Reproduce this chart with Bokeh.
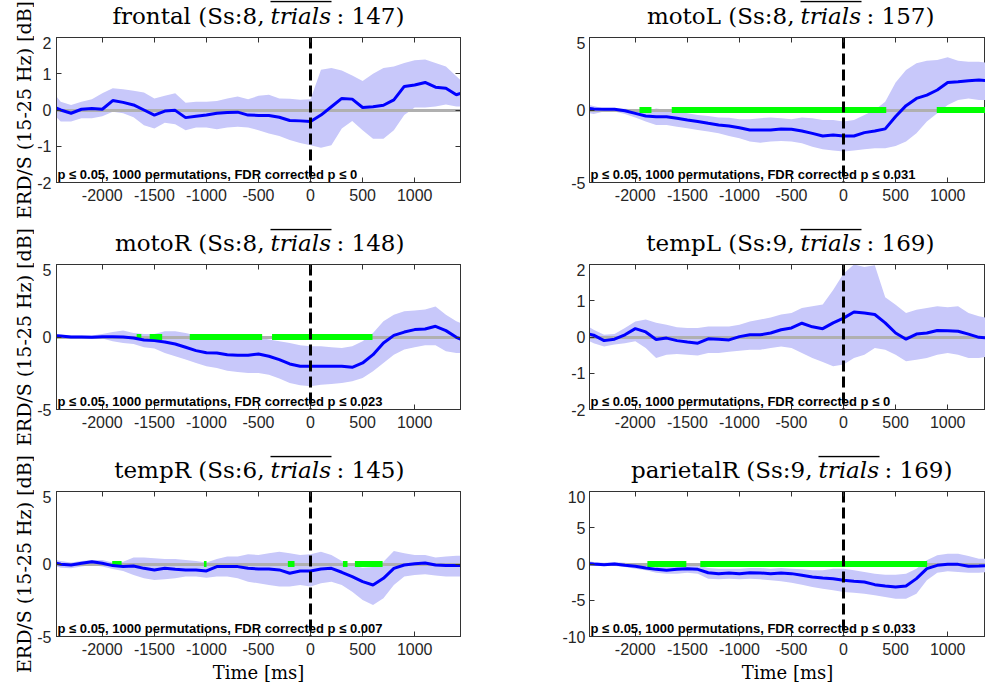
import math
from bokeh.plotting import figure
from bokeh.models import Range1d, FixedTicker, LinearAxis, Label, CustomJSTickFormatter
from bokeh.layouts import column, row
from bokeh.embed import file_html
from bokeh.resources import INLINE

# ---------------- data ----------------
time_ms = [-2440, -2400, -2300, -2200, -2100, -2000, -1900, -1800, -1700, -1600,
           -1500, -1400, -1300, -1200, -1100, -1000, -900, -800, -700, -600,
           -500, -400, -300, -200, -100, 0, 100, 200, 300, 400,
           500, 600, 700, 800, 900, 1000, 1100, 1200, 1300, 1400, 1440]

panel_names = ["frontal", "motoL", "motoR", "tempL", "tempR", "parietalR"]
panel_ss = [8, 8, 8, 9, 6, 9]
panel_trials = [147, 157, 148, 169, 145, 169]
panel_fdr = ["0", "0.031", "0.023", "0", "0.007", "0.033"]
panel_ylim = [(-2, 2), (-5, 5), (-5, 5), (-2, 2), (-5, 5), (-10, 10)]
panel_yticks = [[-2, -1, 0, 1, 2], [-5, 0, 5], [-5, 0, 5], [-2, -1, 0, 1, 2], [-5, 0, 5], [-10, -5, 0, 5, 10]]
panel_ytick_labels = [["-2", "-1", "0", "1", "2"], ["-5", "0", "5"], ["-5", "0", "5"],
                      ["-2", "-1", "0", "1", "2"], ["-5", "0", "5"], ["-10", "-5", "0", "5", "10"]]
x_ticks = [-2000, -1500, -1000, -500, 0, 500, 1000]
x_tick_labels = ["-2000", "-1500", "-1000", "-500", "0", "500", "1000"]
y_label_text = "ERD/S (15-25 Hz) [dB]"
x_label_text = "Time [ms]"

frontal_mean = [0.05, 0.0, -0.09, 0.02, 0.04, 0.02, 0.26, 0.21, 0.14, 0.0,
                -0.14, -0.03, -0.01, -0.21, -0.17, -0.14, -0.09, -0.07, -0.06, -0.14,
                -0.15, -0.15, -0.2, -0.29, -0.3, -0.32, -0.14, 0.09, 0.32, 0.3,
                0.07, 0.09, 0.13, 0.28, 0.65, 0.69, 0.76, 0.63, 0.6, 0.42, 0.46]
frontal_upper = [0.37, 0.23, 0.14, 0.23, 0.3, 0.46, 0.6, 0.57, 0.53, 0.48,
                 0.32, 0.39, 0.46, 0.2, 0.23, 0.23, 0.25, 0.32, 0.37, 0.3,
                 0.39, 0.42, 0.32, 0.31, 0.28, 0.3, 1.11, 1.16, 1.09, 0.95,
                 0.8, 1.0, 1.16, 1.2, 1.3, 1.37, 1.39, 1.3, 1.2, 0.93, 0.83]
frontal_lower = [-0.2, -0.32, -0.32, -0.23, -0.23, -0.17, -0.05, -0.09, -0.2, -0.42,
                 -0.51, -0.35, -0.39, -0.56, -0.48, -0.48, -0.53, -0.48, -0.46, -0.48,
                 -0.56, -0.65, -0.72, -0.83, -0.91, -0.97, -1.04, -0.97, -0.51, -0.3,
                 -0.56, -0.79, -0.79, -0.56, -0.14, 0.07, 0.07, 0.1, 0.15, 0.1, 0.1]

motoL_mean = [0.11, 0.07, 0.05, 0.05, -0.05, -0.23, -0.41, -0.46, -0.46, -0.57,
              -0.69, -0.8, -0.92, -1.03, -1.1, -1.22, -1.38, -1.38, -1.38, -1.31,
              -1.33, -1.45, -1.61, -1.79, -1.72, -1.79, -1.79, -1.56, -1.45, -1.3,
              -0.45, 0.3, 0.8, 1.03, 1.38, 1.89, 1.95, 2.02, 2.07, 2.0, 2.0]
motoL_upper = [0.34, 0.28, 0.11, 0.11, 0.09, 0.05, -0.07, 0.1, 0.0, -0.11,
               -0.23, -0.34, -0.41, -0.51, -0.53, -0.64, -0.64, -0.57, -0.51, -0.57,
               -0.64, -0.51, -0.57, -0.69, -0.69, -0.8, -0.69, -0.34, 0.0, 0.57,
               1.9, 2.76, 3.22, 3.4, 3.45, 3.63, 3.4, 3.33, 3.33, 3.25, 3.25]
motoL_lower = [-0.23, -0.28, -0.11, -0.11, -0.28, -0.51, -0.8, -1.03, -1.03, -1.15,
               -1.26, -1.38, -1.49, -1.61, -1.79, -1.95, -2.18, -2.25, -2.18, -2.14,
               -2.18, -2.3, -2.53, -2.71, -2.8, -2.87, -2.8, -2.71, -2.64, -2.64,
               -2.48, -2.18, -1.61, -0.8, -0.23, 0.34, 0.69, 0.8, 0.69, 0.69, 0.69]

motoR_mean = [0.09, 0.07, 0.0, 0.0, -0.02, 0.02, 0.02, 0.0, -0.07, -0.21,
              -0.25, -0.34, -0.48, -0.71, -0.94, -1.08, -1.1, -1.22, -1.26, -1.26,
              -1.17, -1.33, -1.56, -1.86, -2.02, -2.02, -2.02, -2.02, -2.02, -2.09,
              -1.79, -1.22, -0.41, 0.11, 0.34, 0.51, 0.55, 0.74, 0.44, -0.02, -0.14]
motoR_upper = [0.21, 0.16, 0.11, 0.11, 0.11, 0.21, 0.34, 0.44, 0.28, 0.21,
               0.21, 0.39, 0.39, 0.28, 0.11, -0.02, -0.02, -0.07, -0.11, -0.07,
               -0.02, -0.18, -0.3, -0.41, -0.57, -0.64, -0.64, -0.71, -0.76, -0.64,
               -0.3, 0.28, 1.08, 1.54, 1.77, 1.82, 1.89, 2.11, 1.54, 1.08, 0.97]
motoR_lower = [-0.02, -0.07, -0.07, -0.11, -0.11, -0.11, -0.3, -0.41, -0.48, -0.71,
               -0.8, -1.1, -1.33, -1.56, -1.79, -2.02, -2.14, -2.32, -2.41, -2.48,
               -2.48, -2.6, -2.87, -3.17, -3.33, -3.4, -3.29, -3.24, -3.17, -3.06,
               -2.83, -2.37, -1.79, -1.22, -0.87, -0.71, -0.57, -0.57, -0.99, -1.1, -1.1]

tempL_mean = [0.08, 0.05, -0.1, -0.06, 0.06, 0.23, 0.14, -0.07, -0.03, -0.1,
              -0.14, -0.17, -0.05, -0.06, -0.08, 0.01, 0.06, 0.06, 0.11, 0.2,
              0.25, 0.38, 0.28, 0.23, 0.39, 0.52, 0.69, 0.66, 0.62, 0.39,
              0.11, -0.06, 0.08, 0.11, 0.18, 0.17, 0.16, 0.08, -0.01, -0.03, -0.03]
tempL_upper = [0.27, 0.2, 0.06, 0.08, 0.25, 0.43, 0.48, 0.39, 0.34, 0.27,
               0.25, 0.25, 0.29, 0.29, 0.29, 0.34, 0.43, 0.48, 0.54, 0.62,
               0.66, 0.8, 0.85, 0.9, 1.3, 1.75, 2.0, 1.93, 1.98, 1.1,
               0.89, 0.66, 0.75, 0.8, 0.85, 0.82, 0.85, 0.66, 0.57, 0.52, 0.52]
tempL_lower = [-0.12, -0.17, -0.26, -0.21, -0.17, -0.12, -0.3, -0.58, -0.49, -0.47,
               -0.49, -0.51, -0.44, -0.44, -0.41, -0.38, -0.35, -0.35, -0.3, -0.26,
               -0.3, -0.44, -0.58, -0.69, -0.81, -0.76, -0.58, -0.49, -0.3, -0.35,
               -0.49, -0.67, -0.63, -0.58, -0.49, -0.44, -0.49, -0.58, -0.58, -0.53, -0.53]

tempR_mean = [0.05, -0.02, -0.07, 0.05, 0.16, 0.05, -0.11, -0.18, -0.14, -0.3,
              -0.41, -0.3, -0.37, -0.41, -0.41, -0.48, -0.18, -0.18, -0.18, -0.3,
              -0.34, -0.34, -0.41, -0.64, -0.48, -0.48, -0.34, -0.3, -0.57, -0.87,
              -1.22, -1.45, -0.99, -0.3, -0.07, 0.02, 0.07, -0.07, -0.11, -0.11, -0.11]
tempR_upper = [0.28, 0.21, 0.11, 0.21, 0.28, 0.28, 0.1, 0.15, 0.44, 0.44,
               0.39, 0.34, 0.34, 0.28, 0.21, 0.1, 0.34, 0.51, 0.51, 0.67,
               0.62, 0.74, 0.85, 0.74, 0.62, 0.67, 0.85, 0.62, 0.21, -0.1,
               -0.25, -0.2, 0.15, 0.9, 0.74, 0.62, 0.62, 0.44, 0.51, 0.57, 0.57]
tempR_lower = [-0.18, -0.25, -0.3, -0.18, -0.07, -0.18, -0.34, -0.48, -0.76, -0.99,
               -1.1, -1.06, -0.99, -0.87, -0.87, -0.94, -0.87, -0.87, -0.99, -1.22,
               -1.33, -1.45, -1.56, -1.56, -1.45, -1.56, -1.33, -1.22, -1.45, -1.91,
               -2.48, -2.83, -2.37, -1.45, -0.87, -0.76, -0.71, -0.8, -0.87, -0.87, -0.87]

parietalR_mean = [0.05, 0.0, -0.09, 0.0, -0.18, -0.32, -0.55, -0.74, -0.87, -0.74,
                  -0.64, -0.74, -1.2, -1.33, -1.24, -1.33, -1.2, -1.24, -1.33, -1.24,
                  -1.33, -1.56, -1.79, -1.93, -2.02, -2.25, -2.39, -2.48, -2.85, -3.03,
                  -3.17, -3.03, -2.02, -0.64, -0.18, -0.05, -0.05, -0.32, -0.28, -0.2, -0.2]
parietalR_upper = [0.37, 0.28, 0.18, 0.28, 0.18, 0.05, -0.09, -0.18, -0.28, -0.18,
                   -0.09, -0.18, -0.55, -0.64, -0.64, -0.64, -0.55, -0.55, -0.64, -0.55,
                   -0.64, -0.74, -0.87, -0.87, -0.64, -0.64, -0.87, -1.1, -1.33, -1.47,
                   -1.47, -1.33, -0.64, 0.51, 1.2, 1.43, 1.43, 1.1, 0.74, 0.74, 0.74]
parietalR_lower = [-0.18, -0.18, -0.28, -0.28, -0.41, -0.64, -0.87, -1.2, -1.33, -1.33,
                   -1.2, -1.33, -2.02, -2.11, -2.02, -2.11, -2.02, -2.11, -2.25, -2.39,
                   -2.57, -2.85, -3.17, -3.4, -3.63, -3.86, -3.95, -4.09, -4.32, -4.55,
                   -4.78, -4.78, -4.09, -2.25, -1.2, -1.01, -1.1, -1.2, -1.2, -1.1, -1.1]

# significant intervals (ms), drawn as green bars on the zero line
frontal_sig = []
motoL_sig = [(-1960, -1845), (-1650, 410), (895, 1440)]
motoR_sig = [(-1670, -1625), (-1545, -1425), (-1160, -465), (-370, 595)]
tempL_sig = []
tempR_sig = [(-1905, -1815), (-1024, -999), (-218, -154), (311, 355), (426, 692)]
parietalR_sig = [(-1884, -1510), (-1376, 803)]

panel_mean = [frontal_mean, motoL_mean, motoR_mean, tempL_mean, tempR_mean, parietalR_mean]
panel_upper = [frontal_upper, motoL_upper, motoR_upper, tempL_upper, tempR_upper, parietalR_upper]
panel_lower = [frontal_lower, motoL_lower, motoR_lower, tempL_lower, tempR_lower, parietalR_lower]
panel_sig = [frontal_sig, motoL_sig, motoR_sig, tempL_sig, tempR_sig, parietalR_sig]

# ---------------- layout / style ----------------
X_START, X_END = -2440, 1440
FRAME_W_FULL = 404
MS_PER_PX = (X_END - X_START) / FRAME_W_FULL
FRAME_H = 145
STRIP_W = 34                      # left strip holding the y-axis labels
COLS = [dict(left=56 - STRIP_W, right=30, fw=404), dict(left=99, right=0, fw=396)]
ROWS = [dict(top=37, bottom=46), dict(top=36, bottom=46), dict(top=36, bottom=49)]
TOTAL_H = sum(r["top"] + FRAME_H + r["bottom"] for r in ROWS)
TITLE_SPLIT_PX = [214, 211, 214, 211, 214, 229]   # start of "trials" from frame left
TRIALS_W_PX = 61
GAP_PX = 6
SERIF = "DejaVu Serif"
SANS = "Liberation Sans"
AX_COLOR = "#333333"
TXT_COLOR = "#262626"


def style_axis(ax):
    ax.axis_line_color = AX_COLOR
    ax.major_tick_line_color = AX_COLOR
    ax.major_tick_in = 5
    ax.major_tick_out = 0
    ax.minor_tick_line_color = None
    ax.major_label_text_font = SANS
    ax.major_label_text_font_size = "16px"
    ax.major_label_text_color = TXT_COLOR


def blank_axis(ticks):
    ax = LinearAxis(ticker=FixedTicker(ticks=ticks),
                    formatter=CustomJSTickFormatter(code="return ''"))
    style_axis(ax)
    ax.major_label_text_font_size = "0px"
    ax.major_label_standoff = 0
    return ax


def make_title(i):
    r, c = divmod(i, 2)
    cl, rw = COLS[c], ROWS[r]
    h = rw["top"] - 1
    x_end = X_START + cl["fw"] * MS_PER_PX
    t = figure(width=cl["left"] + cl["fw"] + cl["right"], height=h,
               frame_width=cl["fw"], frame_height=h,
               min_border_left=cl["left"], min_border_right=cl["right"],
               min_border_top=0, min_border_bottom=0,
               x_range=Range1d(X_START, x_end), y_range=Range1d(0, h),
               x_axis_type=None, y_axis_type=None,
               output_backend="svg", toolbar_location=None)
    t.outline_line_color = None
    t.background_fill_color = "white"
    t.border_fill_color = "white"
    split = X_START + TITLE_SPLIT_PX[i] * MS_PER_PX
    ty = 21
    common = dict(y=ty, text_font=SERIF, text_font_size="23px", text_baseline="middle",
                  text_color="black")
    t.add_layout(Label(x=split - GAP_PX * MS_PER_PX, text=f"{panel_names[i]} (Ss:{panel_ss[i]},",
                       text_align="right", **common))
    t.add_layout(Label(x=split, text="trials", text_font_style="italic", text_align="left", **common))
    t.add_layout(Label(x=split + (TRIALS_W_PX + GAP_PX - 1) * MS_PER_PX, text=f": {panel_trials[i]})",
                       text_align="left", **common))
    oy = h - 1
    t.segment(x0=[split], y0=[oy], x1=[split + TRIALS_W_PX * MS_PER_PX], y1=[oy],
              line_color="black", line_width=1.5)
    return t


def make_panel(i):
    r, c = divmod(i, 2)
    cl, rw = COLS[c], ROWS[r]
    x_end = X_START + cl["fw"] * MS_PER_PX
    y0, y1 = panel_ylim[i]
    dy = (y1 - y0) / FRAME_H
    p = figure(width=cl["left"] + cl["fw"] + cl["right"],
               height=1 + FRAME_H + rw["bottom"],
               frame_width=cl["fw"], frame_height=FRAME_H,
               min_border_left=cl["left"], min_border_right=cl["right"],
               min_border_top=1, min_border_bottom=rw["bottom"],
               x_range=Range1d(X_START, x_end), y_range=Range1d(y0, y1),
               output_backend="svg", toolbar_location=None)
    p.xgrid.visible = False
    p.ygrid.visible = False
    p.outline_line_color = AX_COLOR
    p.background_fill_color = "white"
    p.border_fill_color = "white"

    p.xaxis.ticker = FixedTicker(ticks=x_ticks)
    p.xaxis.major_label_overrides = dict(zip(x_ticks, x_tick_labels))
    p.yaxis.ticker = FixedTicker(ticks=panel_yticks[i])
    p.yaxis.major_label_overrides = dict(zip(panel_yticks[i], panel_ytick_labels[i]))
    style_axis(p.xaxis[0])
    style_axis(p.yaxis[0])
    p.xaxis.major_label_standoff = 6
    p.yaxis.major_label_standoff = 5 if c == 0 else 4

    if r == 2:
        p.xaxis.axis_label = x_label_text
        p.xaxis.axis_label_text_font = SERIF
        p.xaxis.axis_label_text_font_size = "18px"
        p.xaxis.axis_label_text_font_style = "normal"
        p.xaxis.axis_label_text_color = "black"
        p.xaxis.axis_label_standoff = 4

    p.add_layout(blank_axis(x_ticks), "above")
    if c == 0:
        p.add_layout(blank_axis(panel_yticks[i]), "right")

    # band, zero line, significance bars, mean, onset marker
    p.varea(x=time_ms, y1=panel_lower[i], y2=panel_upper[i], fill_color="#c8c8fa")
    p.hspan(y=[0], line_color="#b0b0b0", line_width=3)
    sig = panel_sig[i]
    if sig:
        p.segment(x0=[s[0] for s in sig], y0=[0] * len(sig), x1=[s[1] for s in sig], y1=[0] * len(sig),
                  line_color="#00ff00", line_width=6, line_cap="butt")
    p.line(time_ms, panel_mean[i], line_color="#0000ff", line_width=3)
    p.vspan(x=[0], line_color="black", line_width=3, line_dash="11 5")

    p.add_layout(Label(x=X_START + 1 * MS_PER_PX, y=y0 + 0.5 * dy,
                       text="p \u2264 0.05, 1000 permutations, FDR corrected p \u2264 " + panel_fdr[i],
                       text_font=SANS, text_font_style="bold", text_font_size="13px",
                       text_color="black", text_baseline="bottom", text_align="left"))
    return p


def make_ylabel_strip():
    s = figure(width=STRIP_W, height=TOTAL_H, frame_width=STRIP_W, frame_height=TOTAL_H,
               min_border_left=0, min_border_right=0, min_border_top=0, min_border_bottom=0,
               x_range=Range1d(0, STRIP_W), y_range=Range1d(0, TOTAL_H),
               x_axis_type=None, y_axis_type=None,
               output_backend="svg", toolbar_location=None)
    s.outline_line_color = None
    s.background_fill_color = "white"
    s.border_fill_color = "white"
    top = 0
    for rw in ROWS:
        center = top + rw["top"] + FRAME_H / 2
        s.add_layout(Label(x=23, y=TOTAL_H - center, text=y_label_text, angle=math.pi / 2,
                           text_font=SERIF, text_font_size="19px", text_align="center",
                           text_baseline="middle", text_color="black"))
        top += rw["top"] + FRAME_H + rw["bottom"]
    return s


blocks = []
for r in range(3):
    blocks.append(row(make_title(2 * r), make_title(2 * r + 1)))
    blocks.append(row(make_panel(2 * r), make_panel(2 * r + 1)))
layout = row(make_ylabel_strip(), column(*blocks))

open("out.html", "w").write(file_html(layout, INLINE))
